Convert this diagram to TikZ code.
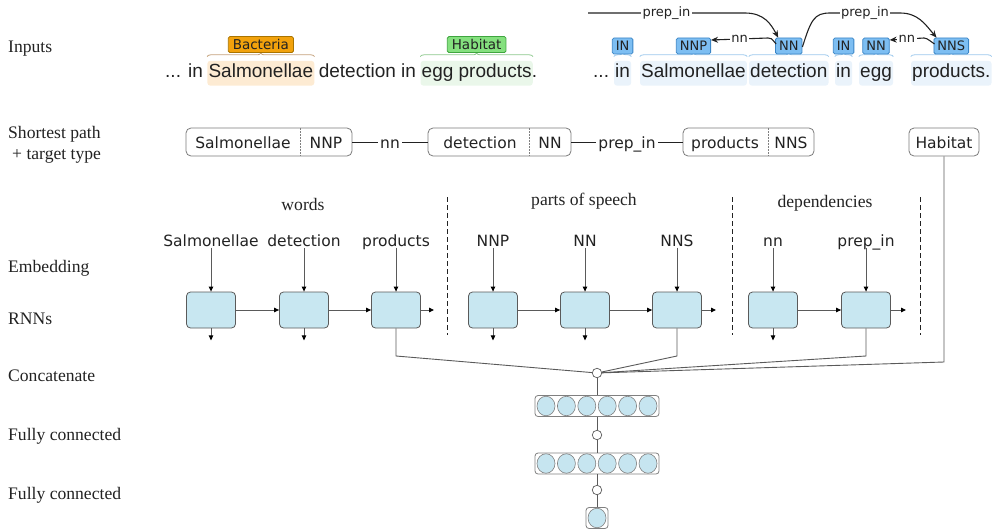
\documentclass[tikz,border=0pt]{standalone}
\usepackage{fontspec}
\setmainfont{Liberation Serif}
\newfontfamily\dvs{DejaVu Sans}
\newfontfamily\lis{Liberation Sans}
\usetikzlibrary{calc,fit,backgrounds,decorations.pathreplacing,arrows.meta,shapes.geometric}
\definecolor{txt}{HTML}{222222}
\definecolor{tagf}{HTML}{7DBEF2}
\definecolor{tagb}{HTML}{3A85C6}
\definecolor{tagbr}{HTML}{9CC8EC}
\definecolor{taghl}{HTML}{EAF3FB}
\definecolor{bacf}{HTML}{F2A20C}
\definecolor{bacb}{HTML}{A97400}
\definecolor{bacbr}{HTML}{C4A27C}
\definecolor{bachl}{HTML}{FDEBD3}
\definecolor{habf}{HTML}{84E07E}
\definecolor{habb}{HTML}{3FA53F}
\definecolor{habbr}{HTML}{8CC88C}
\definecolor{habhl}{HTML}{EAF7EA}
\definecolor{rnnf}{HTML}{C8E7F1}
\definecolor{neuf}{HTML}{C6E5F0}
\definecolor{lgray}{HTML}{5A5A5A}
\begin{document}
\begin{tikzpicture}[x=1pt,y=-1pt,
  sent/.style={font=\lis\fontsize{19}{22}\selectfont, inner sep=0, anchor=base west, text=txt, text height=14pt, text depth=4.5pt},
  lab/.style={font=\fontsize{17.6}{20}\selectfont, anchor=west, inner sep=0, text=txt, text height=14pt, text depth=0pt},
  sec/.style={font=\fontsize{17.6}{20}\selectfont, inner sep=0, text=txt},
  tag/.style={draw=tagb, fill=tagf, rounded corners=1.5, font=\dvs\fontsize{13}{15}\selectfont, inner xsep=3.5pt, inner ysep=0, minimum height=16, text=txt, line width=0.8pt},
  ent/.style={rounded corners=1.5, font=\dvs\fontsize{13.5}{15}\selectfont, inner xsep=4.5pt, inner ysep=0, minimum height=16, text=txt, line width=0.8pt},
  arcl/.style={font=\dvs\fontsize{13}{15}\selectfont, inner sep=1.5pt, fill=white, text=txt},
  arc/.style={draw=txt, line width=1.1pt},
  wbr/.style={decorate, decoration={brace, amplitude=3.5pt}, line width=0.8pt},
  hl/.style={rounded corners=3, inner xsep=1pt, inner ysep=3pt},
  sp/.style={font=\dvs\fontsize{15.5}{18}\selectfont, inner sep=0, text=txt, text height=13.5pt, text depth=1.5pt},
  pbox/.style={draw=lgray!80, rounded corners=5, minimum height=28, inner sep=0, line width=0.8pt},
  rnn/.style={draw=lgray, fill=rnnf, rounded corners=4, minimum width=49, minimum height=36, inner sep=0, line width=0.8pt},
  neur/.style={ellipse, draw=gray, fill=neuf, minimum width=18, minimum height=19.5, inner sep=0, line width=0.6pt},
  layer/.style={draw=gray, rounded corners=3, inner sep=0, line width=0.8pt},
  dot/.style={circle, draw=lgray, fill=white, minimum size=9.5, inner sep=0, line width=0.7pt},
  gl/.style={draw=lgray, line width=0.9pt},
  ar/.style={gl, -{Triangle[length=5pt,width=4.5pt,black]}},
  dsh/.style={draw=txt, dashed, dash pattern=on 5pt off 3pt, line width=0.8pt}
]
\useasboundingbox (0,0) rectangle (992,532);

% ---------- left labels
\node[lab] (Linp) at (8,46) {Inputs};
\node[lab] (Lsp1) at (8,131) {Shortest path};
\node[lab] (Lsp2) at (12,152) {+ target type};
\node[lab] (Lemb) at (8,265) {Embedding};
\node[lab] (Lrnn) at (8,317) {RNNs};
\node[lab] (Lcat) at (8,374) {Concatenate};
\node[lab] (Lfc1) at (8,433) {Fully connected};
\node[lab] (Lfc2) at (8,492) {Fully connected};

% ---------- left sentence
\node[sent] (s0) at (165,78) {... in};
\node[sent] (s1) at ($(s0.base east)+(5.3,0)$) {Salmonellae};
\node[sent] (s2) at ($(s1.base east)+(5.3,0)$) {detection in};
\node[sent] (s3) at ($(s2.base east)+(5.3,0)$) {egg products};
\node[sent] (s4) at (s3.base east) {.};
\begin{scope}[on background layer]
  \node[hl, fill=bachl, fit=(s1)] (h1) {};
  \node[hl, fill=habhl, fit=(s3)] (h3) {};
\end{scope}
\draw[wbr, draw=bacbr] ([yshift=4pt]h1.north west) -- ([yshift=4pt]h1.north east);
\draw[wbr, draw=habbr] ([yshift=4pt]h3.north west) -- ([yshift=4pt]h3.north east);
\node[ent, draw=bacb, fill=bacf] (bac) at ($(h1.north)+(0,-16)$) {Bacteria};
\node[ent, draw=habb, fill=habf] (hab) at ($(h3.north)+(0,-16)$) {Habitat};

% ---------- right sentence (dependency parse)
\node[sent] (w0) at (593,78) {...};
\node[sent] (w1) at (615,78) {in};
\node[sent] (w2) at (641,78) {Salmonellae};
\node[sent] (w3) at (750,78) {detection};
\node[sent] (w4) at (836,78) {in};
\node[sent] (w5) at (860,78) {egg};
\node[sent] (w6) at (912,78) {products.};
\begin{scope}[on background layer]
  \foreach \i in {1,...,6} \node[hl, fill=taghl, fit=(w\i)] (g\i) {};
\end{scope}
\foreach \i in {1,...,6}
  \draw[wbr, draw=tagbr] ([yshift=4pt]g\i.north west) -- ([yshift=4pt]g\i.north east);
\node[tag] (t1) at (g1.north |- 0,46) {IN};
\node[tag] (t2) at (g2.north |- 0,46) {NNP};
\node[tag] (t3) at (g3.north |- 0,46) {NN};
\node[tag] (t4) at (g4.north |- 0,46) {IN};
\node[tag] (t5) at (g5.north |- 0,46) {NN};
\node[tag] (t6) at (g6.north |- 0,46) {NNS};

\coordinate (pin) at (588,13);
\draw[arc, -{Stealth[length=7pt,width=6pt]}] (pin) -- node[arcl] (lp1) {prep\_in} (745,13)
  .. controls (764,13) and (771,24) .. ($(t3.north west)+(3,0)$);
\draw[arc, -{Stealth[length=7pt,width=6pt]}] ($(t3.east)+(0,1)$) .. controls (811,20) and (814,13) .. (830,13)
  -- node[arcl] (lp2) {prep\_in} (900,13)
  .. controls (918,13) and (925,24) .. ($(t6.north west)+(3,0)$);
\draw[arc, -{Stealth[length=7pt,width=6pt]}] ($(t3.west)+(1,-2)$) .. controls (771,38) .. (768,38)
  -- node[arcl] (ln1) {nn} (t2.east |- 0,40);
\draw[arc, -{Stealth[length=7pt,width=6pt]}] ($(t6.west)+(1,-2)$) .. controls (926,38) .. (924,38)
  -- node[arcl] (ln2) {nn} (t5.east |- 0,40);

% ---------- shortest path
\node[pbox, minimum width=166] (b1) at (269,142) {};
\node[pbox, minimum width=143] (b2) at (499.5,142) {};
\node[pbox, minimum width=131] (b3) at (748.5,142) {};
\node[pbox, minimum width=70] (bh) at (944,142) {};
\draw[dsh, draw=gray, dash pattern=on 1.5pt off 1.5pt] (300,128) -- (300,156);
\draw[dsh, draw=gray, dash pattern=on 1.5pt off 1.5pt] (529,128) -- (529,156);
\draw[dsh, draw=gray, dash pattern=on 1.5pt off 1.5pt] (768,128) -- (768,156);
\node[sp] (pw1) at (243,142) {Salmonellae};
\node[sp] (pp1) at (326,142) {NNP};
\node[sp] (pw2) at (480,142) {detection};
\node[sp] (pp2) at (550,142) {NN};
\node[sp] (pw3) at (725,142) {products};
\node[sp] (pp3) at (791,142) {NNS};
\node[sp] (ph) at (bh) {Habitat};
\draw[draw=txt, line width=1pt] (b1) -- node[sp, fill=white, inner xsep=2pt] (pl1) {nn} (b2);
\draw[draw=txt, line width=1pt] (b2) -- node[sp, fill=white, inner xsep=2pt] (pl2) {prep\_in} (b3);

% ---------- section headings and separators
\node[sec] (hw) at (303,204) {words};
\node[sec] (hp) at (584,201) {parts of speech};
\node[sec] (hd) at (825,203) {dependencies};
\draw[dsh] (447,197) -- (447,335);
\draw[dsh] (732,197) -- (732,335);
\draw[dsh] (920,197) -- (920,335);

% ---------- embeddings and RNNs
\foreach \n/\x/\t in {1/211/Salmonellae, 2/304/detection, 3/396/products, 4/493/NNP, 5/585/NN, 6/677/NNS, 7/773/nn, 8/866/prep\_in}{
  \node[sp] (e\n) at (\x,240) {\t};
  \node[rnn] (r\n) at (\x,310) {};
  \draw[ar] (e\n.south) -- (r\n.north);
}
\draw[ar] (r1) -- (r2);
\draw[ar] (r2) -- (r3);
\draw[ar] (r4) -- (r5);
\draw[ar] (r5) -- (r6);
\draw[ar] (r7) -- (r8);
\coordinate (o3) at (434,310);
\coordinate (o6) at (716,310);
\coordinate (o8) at (906,310);
\draw[ar] (r3) -- (o3);
\draw[ar] (r6) -- (o6);
\draw[ar] (r8) -- (o8);
\foreach \n in {1,2,4,5,7}{
  \coordinate (d\n) at ($(r\n.south)+(0,12)$);
  \draw[ar] (r\n.south) -- (d\n);
}

% ---------- concatenation and dense layers
\node[dot] (cc) at (597,373) {};
\draw[gl] (r3.south) -- (r3.south |- 0,356) -- (cc);
\draw[gl] (r6.south) -- (r6.south |- 0,356) -- (cc);
\draw[gl] (r8.south) -- (r8.south |- 0,356) -- (cc);
\draw[gl] (bh.south) -- (bh.south |- 0,362) -- (cc);

\node[layer, minimum width=124, minimum height=21] (fc1) at (597,406) {};
\node[layer, minimum width=124, minimum height=21] (fc2) at (597,463.5) {};
\foreach \i in {0,...,5}{
  \node[neur] (na\i) at ({546+20.4*\i},406) {};
  \node[neur] (nb\i) at ({546+20.4*\i},463.5) {};
}
\node[dot] (c2) at (597,435) {};
\node[dot] (c3) at (597,490) {};
\node[layer, minimum width=22, minimum height=21] (fo) at (597,518) {};
\node[neur] (no) at (597,518) {};
\draw[gl] (cc) -- (fc1);
\draw[gl] (fc1) -- (c2);
\draw[gl] (c2) -- (fc2);
\draw[gl] (fc2) -- (c3);
\draw[gl] (c3) -- (fo);
\end{tikzpicture}
\end{document}
